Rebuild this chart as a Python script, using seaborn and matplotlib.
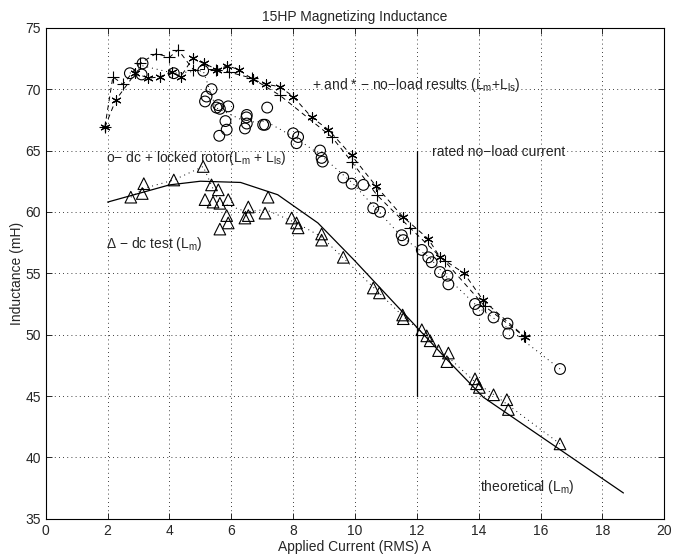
import numpy as np
import pandas as pd
import matplotlib
matplotlib.use("Agg")
import matplotlib.pyplot as plt
import seaborn as sns

# no-load results, '*' markers
star_x = [1.91, 2.26, 2.90, 3.32, 3.69, 4.08, 4.36, 4.75, 5.11, 5.55, 5.87, 6.24, 6.69, 7.13,
          7.57, 8.00, 8.60, 9.14, 9.89, 10.68, 11.55, 12.37, 12.75, 13.53, 14.14, 15.50]
star_y = [66.9, 69.1, 71.3, 70.9, 71.0, 71.4, 71.0, 72.5, 72.1, 71.6, 71.9, 71.6, 70.8, 70.4,
          70.2, 69.4, 67.7, 66.7, 64.6, 62.1, 59.6, 57.8, 56.3, 55.0, 52.8, 49.8]

# no-load results, '+' markers
plus_x = [1.91, 2.17, 2.50, 3.04, 3.57, 4.00, 4.28, 4.77, 5.52, 5.91, 6.66, 7.57, 9.25, 9.89,
          10.70, 11.78, 12.90, 14.20, 15.45]
plus_y = [66.9, 71.0, 70.4, 72.1, 72.9, 72.6, 73.2, 71.6, 71.6, 71.4, 70.9, 69.5, 66.1, 64.1,
          61.4, 58.7, 56.0, 52.3, 49.9]

# dc + locked rotor, 'o' markers
circ_x = [2.72, 3.10, 3.13, 4.14, 5.09, 5.15, 5.20, 5.36, 5.52, 5.58, 5.61, 5.63, 5.81, 5.85,
          5.90, 6.44, 6.49, 6.50, 6.50, 7.03, 7.09, 7.16, 8.00, 8.11, 8.16, 8.87, 8.92, 8.95,
          9.62, 9.89, 10.27, 10.59, 10.81, 11.51, 11.56, 12.16, 12.37, 12.48, 12.75, 12.99,
          13.02, 13.88, 13.99, 14.48, 14.93, 14.96, 16.63]
circ_y = [71.3, 71.2, 72.1, 71.3, 71.5, 69.0, 69.4, 70.0, 68.5, 68.7, 66.2, 68.4, 67.4, 66.7,
          68.6, 66.8, 67.7, 67.9, 67.2, 67.1, 67.1, 68.5, 66.4, 65.6, 66.1, 65.0, 64.4, 64.1,
          62.8, 62.3, 62.2, 60.3, 60.0, 58.1, 57.7, 56.9, 56.3, 55.9, 55.1, 54.8, 54.1, 52.5,
          52.0, 51.4, 50.9, 50.1, 47.2]
circ_line_x = [2.72, 3.13, 4.14, 5.09, 5.50, 6.50, 7.10, 8.10, 8.90, 9.90, 10.70, 11.50,
               12.40, 13.00, 14.00, 14.90, 16.63]
circ_line_y = [71.3, 71.9, 71.3, 71.5, 68.5, 67.3, 67.4, 66.0, 64.6, 62.4, 60.2, 58.0,
               56.3, 54.6, 52.2, 50.6, 47.2]

# dc test, triangle markers
tri_x = [2.75, 3.12, 3.17, 4.14, 5.09, 5.15, 5.36, 5.41, 5.58, 5.63, 5.63, 5.85, 5.90, 5.90,
         6.44, 6.55, 6.55, 7.09, 7.19, 7.95, 8.11, 8.16, 8.92, 8.92, 9.62, 10.59, 10.79,
         11.54, 11.56, 12.16, 12.32, 12.43, 12.70, 12.97, 13.02, 13.88, 13.93, 14.02, 14.48,
         14.91, 14.96, 16.63]
tri_y = [61.2, 61.5, 62.3, 62.6, 63.7, 61.0, 62.2, 60.8, 61.8, 60.7, 58.6, 59.7, 61.0, 59.1,
         59.5, 60.4, 59.7, 59.9, 61.2, 59.5, 59.1, 58.7, 58.2, 57.7, 56.3, 53.8, 53.4,
         51.6, 51.3, 50.4, 49.9, 49.5, 48.7, 47.8, 48.5, 46.4, 46.0, 45.7, 45.1,
         44.7, 43.9, 41.1]
tri_line_x = [2.75, 3.15, 4.14, 5.09, 5.60, 6.50, 7.10, 8.10, 8.90, 9.60, 10.70, 11.55,
              12.30, 13.00, 13.90, 14.50, 14.93, 16.63]
tri_line_y = [61.2, 61.9, 62.6, 63.7, 60.8, 60.0, 60.2, 59.1, 58.0, 56.3, 53.6, 51.5,
              49.9, 48.2, 46.1, 45.1, 44.3, 41.1]

# theoretical Lm
theo_x = [2.0, 3.0, 4.0, 5.0, 6.3, 7.5, 8.8, 10.0, 12.0, 13.0, 14.15, 18.68]
theo_y = [60.8, 61.5, 62.2, 62.5, 62.4, 61.4, 59.1, 56.0, 50.6, 47.9, 44.9, 37.1]

# rated no-load current marker
rated_x = [12.0, 12.0]
rated_y = [45.0, 65.0]

sns.set_style("ticks")
plt.rcParams["font.family"] = ["Liberation Sans", "DejaVu Sans"]
plt.rcParams["mathtext.fontset"] = "custom"
plt.rcParams["mathtext.rm"] = "Liberation Sans"
plt.rcParams["mathtext.it"] = "Liberation Sans"

fig = plt.figure(figsize=(6.73, 5.56), dpi=100)
ax = fig.add_axes([0.068, 0.067, 0.919, 0.883])

k = "black"
dash = (0, (5, 4))
dot = (0, (1, 4))

# dashed lines for the no-load series, then their markers
sns.lineplot(x=star_x, y=star_y, sort=False, estimator=None, ax=ax, color=k, lw=0.7,
             linestyle=dash)
sns.lineplot(x=plus_x, y=plus_y, sort=False, estimator=None, ax=ax, color=k, lw=0.7,
             linestyle=dash)
sns.scatterplot(x=star_x, y=star_y, ax=ax, marker=(6, 2, 0), s=45, color=k, linewidth=0.8)
sns.scatterplot(x=plus_x, y=plus_y, ax=ax, marker="+", s=70, color=k, linewidth=0.8)

sns.lineplot(x=circ_line_x, y=circ_line_y, sort=False, estimator=None, ax=ax, color=k,
             lw=0.7, linestyle=dot)
sns.scatterplot(x=circ_x, y=circ_y, ax=ax, marker="o", s=60, facecolors="none",
                edgecolor=k, linewidth=0.8)

sns.lineplot(x=tri_line_x, y=tri_line_y, sort=False, estimator=None, ax=ax, color=k,
             lw=0.7, linestyle=dot)
sns.scatterplot(x=tri_x, y=tri_y, ax=ax, marker="^", s=70, facecolors="none",
                edgecolor=k, linewidth=0.8)

sns.lineplot(x=theo_x, y=theo_y, sort=False, estimator=None, ax=ax, color=k, lw=0.9)
sns.lineplot(x=rated_x, y=rated_y, sort=False, estimator=None, ax=ax, color=k, lw=0.9)

fs = 10
ax.text(8.6, 70.3, r"+ and * $-$ no$-$load results (L$_\mathrm{m}$+L$_\mathrm{ls}$)",
        fontsize=fs, va="center")
ax.text(1.96, 64.4, r"o$-$ dc + locked rotor(L$_\mathrm{m}$ + L$_\mathrm{ls}$)",
        fontsize=fs, va="center")
ax.text(12.5, 64.9, "rated no\u2212load current", fontsize=fs, va="center")
ax.text(1.96, 57.4, r"$\Delta$ $-$ dc test (L$_\mathrm{m}$)", fontsize=fs, va="center")
ax.text(14.05, 37.6, r"theoretical (L$_\mathrm{m}$)", fontsize=fs, va="center")

ax.set_xlim(0, 20)
ax.set_ylim(35, 75)
ax.set_xticks(np.arange(0, 21, 2))
ax.set_yticks(np.arange(35, 76, 5))
ax.grid(True, linestyle=dot, color=k, linewidth=0.6)
ax.tick_params(direction="in", top=True, right=True, labelsize=fs, length=4, width=0.7)
for s in ax.spines.values():
    s.set_visible(True)
    s.set_linewidth(0.8)
    s.set_color(k)
ax.set_xlabel("Applied Current (RMS) A", fontsize=fs, labelpad=2)
ax.set_ylabel("Inductance (mH)", fontsize=fs, labelpad=1)
ax.set_title("15HP Magnetizing Inductance", fontsize=fs, pad=5)

fig.savefig("out.png", dpi=100)
